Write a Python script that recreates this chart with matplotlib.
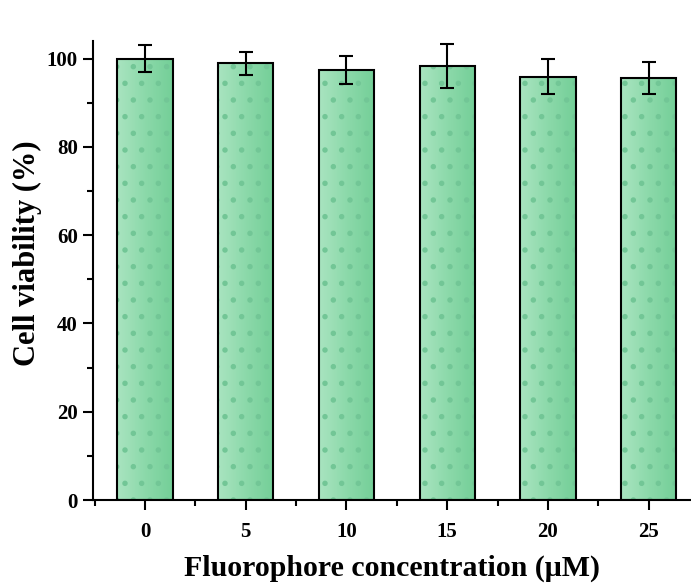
import numpy as np
import matplotlib
matplotlib.use('Agg')
import matplotlib.pyplot as plt
from matplotlib.colors import LinearSegmentedColormap
from matplotlib.ticker import MultipleLocator

concentrations = ['0', '5', '10', '15', '20', '25']
viability = [100.0, 99.0, 97.4, 98.3, 95.9, 95.6]
errors = [3.0, 2.6, 3.2, 5.0, 4.0, 3.7]

plt.rcParams['font.family'] = 'Liberation Serif'
plt.rcParams['font.weight'] = 'bold'

fig = plt.figure(figsize=(6.91, 5.84), dpi=100)
ax = fig.add_axes([0.1346, 0.1438, 0.8654, 0.786])

x = np.arange(len(concentrations))
bars = ax.bar(x, viability, width=0.55, color='none', edgecolor='none', zorder=1)

# light-to-dark green fill across each bar
cmap = LinearSegmentedColormap.from_list('g', ['#a9e4c0', '#8cd9aa', '#74cf98'])
grad = np.linspace(0, 1, 64).reshape(1, -1)
for b in bars:
    im = ax.imshow(grad, cmap=cmap, aspect='auto', zorder=1,
                   extent=[b.get_x(), b.get_x() + b.get_width(), 0, b.get_height()])
    im.set_clip_path(b)

# dotted texture on top of the fill
plt.rcParams['hatch.linewidth'] = 1.5
ax.bar(x, viability, width=0.55, fill=False, hatch='.', edgecolor='#72c696', lw=0, zorder=2)
ax.bar(x, viability, width=0.55, fill=False, edgecolor='black', lw=1.5, zorder=3)
ax.errorbar(x, viability, yerr=errors, fmt='none', ecolor='black', elinewidth=1.5,
            capsize=5, capthick=1.5, zorder=4)

ax.set_xlim(-0.516, 5.42)
ax.set_ylim(0, 104)
ax.set_xticks(x)
ax.set_xticklabels(concentrations)
ax.xaxis.set_minor_locator(MultipleLocator(0.5))
ax.yaxis.set_major_locator(MultipleLocator(20))
ax.yaxis.set_minor_locator(MultipleLocator(10))
ax.tick_params(which='major', direction='out', length=7, width=1.5, labelsize=15, pad=4)
ax.tick_params(axis='x', which='major', pad=9)
ax.tick_params(which='minor', direction='out', length=4, width=1.5)
for side in ['top', 'right']:
    ax.spines[side].set_visible(False)
for side in ['left', 'bottom']:
    ax.spines[side].set_linewidth(1.5)

ax.set_xlabel('Fluorophore concentration (μM)', fontsize=21.5, fontweight='bold', labelpad=9)
ax.set_ylabel('Cell viability (%)', fontsize=22, fontweight='bold')
ax.yaxis.set_label_coords(-0.085, 0.538)

fig.savefig('out.png', dpi=100)
